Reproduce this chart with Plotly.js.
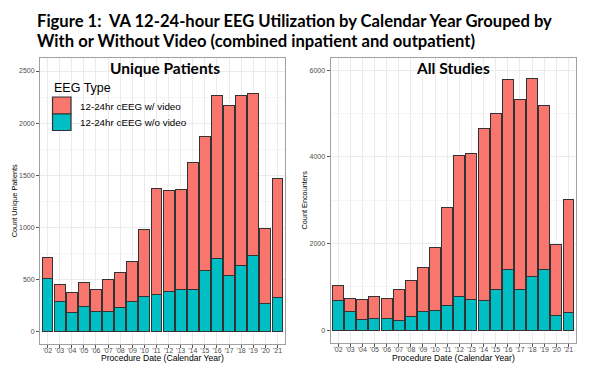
<!DOCTYPE html>
<html>
<head>
<meta charset="utf-8">
<script src="https://cdn.plot.ly/plotly-3.0.1.min.js"></script>
<style>html,body{margin:0;padding:0;background:#fff;}#chart{width:596px;height:376px;}</style>
</head>
<body>
<div id="chart"></div>
<script>
var years = ["'02","'03","'04","'05","'06","'07","'08","'09","'10","'11","'12","'13","'14","'15","'16","'17","'18","'19","'20","'21"];
// Unique patients
var patientsTotal   = [709,452,372,465,401,497,565,667,979,1370,1354,1361,1621,1868,2266,2166,2269,2288,985,1467];
var patientsNoVideo = [504,289,176,234,193,186,231,286,337,353,382,398,404,581,696,533,635,725,270,321];
// All studies (encounters)
var studiesTotal    = [1026,733,717,787,740,933,1157,1442,1913,2823,4026,4080,4666,5013,5799,5337,5815,5190,1974,3015];
var studiesNoVideo  = [694,424,239,278,262,231,308,424,455,578,779,717,694,949,1411,941,1242,1396,339,416];

var patientsVideo = patientsTotal.map(function(t,i){return t - patientsNoVideo[i];});
var studiesVideo  = studiesTotal.map(function(t,i){return t - studiesNoVideo[i];});

var RED = '#F8766D', TEAL = '#00BFC4', EDGE = '#333333';
var nameVideo = '12-24hr cEEG w/ video', nameNoVideo = '12-24hr cEEG w/o video';
var xTitle = 'Procedure Date (Calendar Year)';
var FONT = 'Liberation Sans, Arial, sans-serif';

function bar(x, y, name, color, xa, ya){
  return {type:'bar', x:x, y:y, name:name, xaxis:xa, yaxis:ya, width:0.9,
    marker:{color:color, line:{color:EDGE, width:1}}, showlegend:false, hoverinfo:'skip'};
}

var data = [
  bar(years, patientsNoVideo, nameNoVideo, TEAL, 'x', 'y'),
  bar(years, patientsVideo, nameVideo, RED, 'x', 'y'),
  bar(years, studiesNoVideo, nameNoVideo, TEAL, 'x2', 'y2'),
  bar(years, studiesVideo, nameVideo, RED, 'x2', 'y2')
];

var tickFont = {family:FONT, size:7, color:'#4D4D4D'};
function xax(dom, anchor){
  return {domain:dom, anchor:anchor, type:'category', range:[-0.62,19.62],
    showgrid:true, gridcolor:'#EBEBEB', gridwidth:1, zeroline:false,
    showline:true, mirror:true, linecolor:'#A0A0A0', linewidth:1,
    ticks:'outside', ticklen:3, tickcolor:'#555', tickfont:tickFont, tickangle:0,
    ticklabelstandoff:-3};
}
function yax(dom, anchor, range, dtick, title){
  return {domain:dom, anchor:anchor, range:range, dtick:dtick, tick0:0,
    showgrid:true, gridcolor:'#EBEBEB', gridwidth:1, zeroline:false,
    minor:{showgrid:true, gridcolor:'#F5F5F5', dtick:dtick/2, tick0:0},
    showline:true, mirror:true, linecolor:'#A0A0A0', linewidth:1,
    ticks:'outside', ticklen:3, tickcolor:'#555', tickfont:tickFont,
    title:{text:title, font:{family:FONT, size:7.3, color:'#000'}, standoff:0}};
}

function py(p){ return 1 - p/376; }
function px(p){ return p/596; }

var layout = {
  width:596, height:376,
  margin:{l:0, r:0, t:0, b:0},
  paper_bgcolor:'#fff', plot_bgcolor:'#fff',
  barmode:'stack',
  showlegend:false,
  xaxis: xax([px(40), px(285)], 'y'),
  yaxis: yax([py(343.5), py(58)], 'x', [-118, 2625], 500, 'Count Unique Patients'),
  xaxis2: xax([px(330.5), px(576)], 'y2'),
  yaxis2: yax([py(342.5), py(58)], 'x2', [-284, 6285], 2000, 'Count Encounters'),
  shapes:[
    {type:'rect', xref:'paper', yref:'paper', x0:px(52.5), x1:px(71), y0:py(97), y1:py(114),
     fillcolor:RED, line:{color:EDGE, width:1.2}},
    {type:'rect', xref:'paper', yref:'paper', x0:px(52.5), x1:px(71), y0:py(114), y1:py(130.5),
     fillcolor:TEAL, line:{color:EDGE, width:1.2}}
  ],
  annotations:[
    {xref:'paper', yref:'paper', x:px(35), y:py(21.5), xanchor:'left', yanchor:'middle', showarrow:false,
     text:'<b>Figure 1:  VA 12-24-hour EEG Utilization by Calendar Year Grouped by</b>',
     font:{family:'Lato, sans-serif', size:16.6, color:'#000'}},
    {xref:'paper', yref:'paper', x:px(35), y:py(40.5), xanchor:'left', yanchor:'middle', showarrow:false,
     text:'<b>With or Without Video (combined inpatient and outpatient)</b>',
     font:{family:'Lato, sans-serif', size:16.6, color:'#000'}},
    {xref:'paper', yref:'paper', x:px(165), y:py(68), xanchor:'center', yanchor:'middle', showarrow:false,
     text:'<b>Unique Patients</b>', font:{family:'Lato, sans-serif', size:15.5, color:'#000'}},
    {xref:'paper', yref:'paper', x:px(453), y:py(68), xanchor:'center', yanchor:'middle', showarrow:false,
     text:'<b>All Studies</b>', font:{family:'Lato, sans-serif', size:15.5, color:'#000'}},
    {xref:'paper', yref:'paper', x:px(51.5), y:py(88.3), xanchor:'left', yanchor:'middle', showarrow:false,
     text:'EEG Type', font:{family:FONT, size:12.5, color:'#000'}},
    {xref:'paper', yref:'paper', x:px(77.5), y:py(106), xanchor:'left', yanchor:'middle', showarrow:false,
     text:nameVideo, font:{family:FONT, size:9.8, color:'#000'}},
    {xref:'paper', yref:'paper', x:px(77.5), y:py(122.7), xanchor:'left', yanchor:'middle', showarrow:false,
     text:nameNoVideo, font:{family:FONT, size:9.8, color:'#000'}},
    {xref:'x domain', yref:'paper', x:0.5, y:py(358), xanchor:'center', yanchor:'middle', showarrow:false,
     text:xTitle, font:{family:FONT, size:8.6, color:'#000'}},
    {xref:'x2 domain', yref:'paper', x:0.5, y:py(358), xanchor:'center', yanchor:'middle', showarrow:false,
     text:xTitle, font:{family:FONT, size:8.6, color:'#000'}}
  ]
};

Plotly.newPlot('chart', data, layout, {staticPlot:true, displayModeBar:false});
</script>
</body>
</html>
